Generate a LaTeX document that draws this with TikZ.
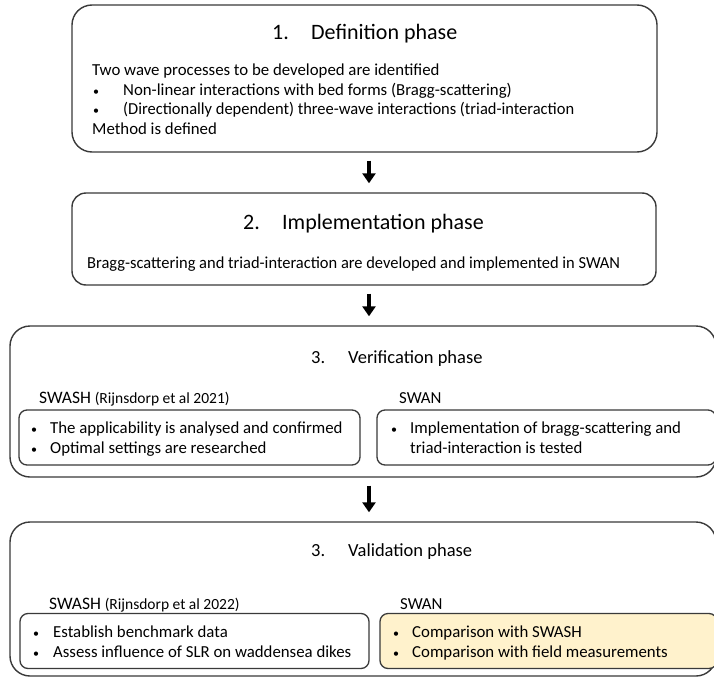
\documentclass[tikz,border=0pt]{standalone}
\usepackage{fontspec}
\setmainfont{Carlito}
\usetikzlibrary{arrows.meta}
\definecolor{edge}{HTML}{3A3A3A}
\definecolor{paleyellow}{HTML}{FFF2CC}
\newcommand{\bul}{{\fontsize{12}{14}\selectfont •}}
\newcommand{\refsize}{\fontsize{15.5}{18}\selectfont}
\newcommand{\swsize}{\fontsize{17.5}{20}\selectfont}
\tikzset{
  phasebox/.style={draw=edge, line width=1.4pt, rounded corners=20pt, inner sep=0pt},
  subbox/.style={draw=edge, line width=1.3pt, rounded corners=8pt, inner sep=0pt},
  ttl/.style={anchor=base west, inner sep=0pt, font=\fontsize{22}{26}\selectfont},
  ttlb/.style={anchor=base west, inner sep=0pt, font=\fontsize{18.5}{22}\selectfont},
  txt/.style={anchor=base west, inner sep=0pt, font=\fontsize{16.8}{20}\selectfont},
  arr/.style={line width=3.5pt, -{Triangle[width=13pt,length=10pt]}, shorten <=8pt, shorten >=9pt}
}
\begin{document}
\begin{tikzpicture}[x=1pt,y=-1pt]
\useasboundingbox[fill=white] (0,0) rectangle (714,677);
% boxes
\node[phasebox, minimum width=585pt, minimum height=147pt] (b1) at (364.5,78.5) {};
\node[phasebox, rounded corners=14pt, minimum width=584pt, minimum height=92pt] (b2) at (364,239) {};
\node[phasebox, minimum width=706pt, minimum height=151pt] (b3) at (363,401.5) {};
\node[phasebox, minimum width=706pt, minimum height=154pt] (b4) at (363,599) {};
\node[subbox, minimum width=341pt, minimum height=55pt] (s3l) at (189.5,437.5) {};
\node[subbox, minimum width=339pt, minimum height=55pt] (s3r) at (546.5,437.5) {};
\node[subbox, minimum width=349pt, minimum height=55pt] (s4l) at (194.5,641) {};
\node[subbox, fill=paleyellow, minimum width=337pt, minimum height=55pt] (s4r) at (548.5,641) {};
% arrows
\coordinate (ax) at (369,0);
\draw[arr] (b1.south -| ax) -- (b2.north -| ax);
\draw[arr] (b2.south -| ax) -- (b3.north -| ax);
\draw[arr] (b3.south -| ax) -- (b4.north -| ax);
% box 1
\node[ttl] (t1n) at (272,40) {1.};
\node[ttl] (t1) at (311,40) {Definition phase};
\node[txt] (l1) at (92,75) {Two wave processes to be developed are identified};
\node[txt] (l2a) at (93,95) {\bul};
\node[txt] (l2) at (123,95) {Non-linear interactions with bed forms (Bragg-scattering)};
\node[txt] (l3a) at (93,114) {\bul};
\node[txt] (l3) at (123,114) {\scalebox{0.98}[1]{(Directionally dependent) three-wave interactions (triad-interaction}};
\node[txt] (l4) at (92,134) {Method is defined};
% box 2
\node[ttl] (t2n) at (243,229) {2.};
\node[ttl] (t2) at (282,229) {Implementation phase};
\node[txt] (m1) at (87,268) {\scalebox{0.98}[1]{Bragg-scattering and triad-interaction are developed and implemented in SWAN}};
% box 3
\node[ttlb] (t3n) at (311,363) {3.};
\node[ttlb] (t3) at (348,363) {Verification phase};
\node[txt] (h3l) at (39,403) {{\swsize SWASH} {\refsize(Rijnsdorp et al 2021)}};
\node[txt] (h3r) at (399,403) {SWAN};
\node[txt] (v1a) at (31,433) {\bul};
\node[txt] (v1) at (50,433) {The applicability is analysed and confirmed};
\node[txt] (v2a) at (31,453) {\bul};
\node[txt] (v2) at (50,453) {Optimal settings are researched};
\node[txt] (w1a) at (391,433) {\bul};
\node[txt] (w1) at (410,433) {Implementation of bragg-scattering and};
\node[txt] (w2) at (410,453) {triad-interaction is tested};
% box 4
\node[ttlb] (t4n) at (311,556) {3.};
\node[ttlb] (t4) at (348,556) {Validation phase};
\node[txt] (h4l) at (49,609) {{\swsize SWASH} {\refsize(Rijnsdorp et al 2022)}};
\node[txt] (h4r) at (400,609) {SWAN};
\node[txt] (x1a) at (33,637) {\bul};
\node[txt] (x1) at (53,637) {Establish benchmark data};
\node[txt] (x2a) at (33,657) {\bul};
\node[txt] (x2) at (53,657) {Assess influence of SLR on waddensea dikes};
\node[txt] (y1a) at (393,637) {\bul};
\node[txt] (y1) at (412,637) {Comparison with SWASH};
\node[txt] (y2a) at (393,657) {\bul};
\node[txt] (y2) at (412,657) {Comparison with field measurements};
\end{tikzpicture}
\end{document}
